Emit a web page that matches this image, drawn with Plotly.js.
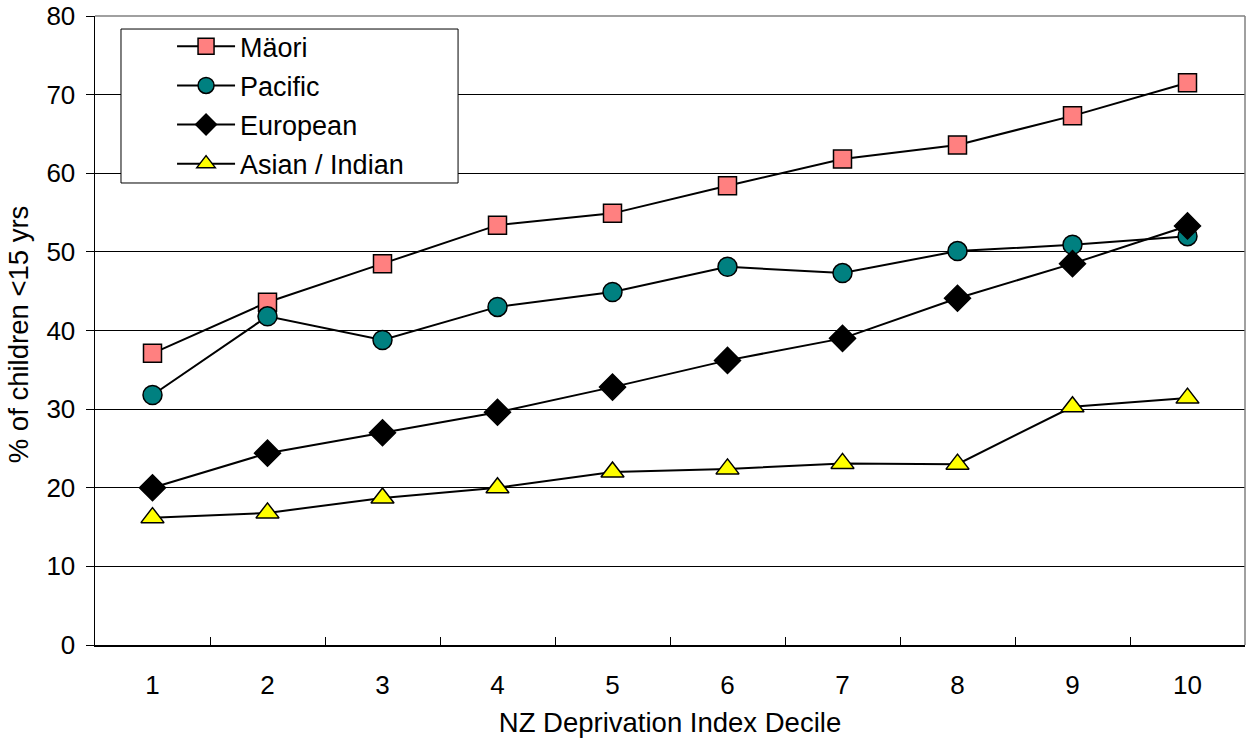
<!DOCTYPE html>
<html>
<head>
<meta charset="utf-8">
<script src="https://cdn.plot.ly/plotly-3.0.1.min.js"></script>
<style>html,body{margin:0;padding:0;background:#fff;}#chart{width:1252px;height:740px;}</style>
</head>
<body>
<div id="chart"></div>
<script>
const deciles = ["1","2","3","4","5","6","7","8","9","10"];
const maori = [37.1, 43.6, 48.5, 53.4, 54.9, 58.4, 61.8, 63.6, 67.3, 71.5];
const pacific = [31.8, 41.8, 38.8, 43.0, 44.9, 48.1, 47.3, 50.1, 50.9, 52.0];
const european = [20.0, 24.4, 27.0, 29.6, 32.8, 36.2, 39.0, 44.1, 48.5, 53.3];
const asian = [16.2, 16.8, 18.7, 20.0, 22.0, 22.4, 23.1, 23.0, 30.3, 31.4];
const yTicks = [0, 10, 20, 30, 40, 50, 60, 70, 80];
const xTitle = "NZ Deprivation Index Decile";
const yTitle = "% of children <15 yrs";

const font = "Liberation Sans, Arial, sans-serif";
function tr(name, y, symbol, color, size, grp) {
  return {
    x: deciles, y: y, name: name, type: "scatter", mode: "lines+markers",
    legendgroup: grp,
    line: {color: "#000", width: 2},
    marker: {symbol: symbol, color: color, size: size, line: {color: "#000", width: 1.5}},
    cliponaxis: false
  };
}
const data = [
  tr("Mäori", maori, "square", "#FF8080", 18, "a"),
  tr("Pacific", pacific, "circle", "#008080", 19, "b"),
  tr("European", european, "diamond", "#000000", 20, "c"),
  tr("Asian / Indian", asian, "triangle-up", "#FFFF00", 20, "d")
];
const layout = {
  width: 1252, height: 740,
  margin: {l: 95, r: 7, t: 16, b: 95},
  paper_bgcolor: "#fff", plot_bgcolor: "#fff",
  font: {family: font, size: 26, color: "#000"},
  showlegend: true,
  legend: {
    x: 0.067, y: 0.990, xanchor: "left", yanchor: "top",
    bgcolor: "rgba(0,0,0,0)", borderwidth: 0,
    font: {family: font, size: 27, color: "#000"},
    tracegroupgap: 1, itemwidth: 58
  },
  xaxis: {
    type: "category", tickson: "boundaries", ticks: "inside", ticklen: 8, tickcolor: "#000",
    showline: true, linecolor: "#000", linewidth: 1.5, showgrid: false, zeroline: false,
    range: [-0.5, 9.5], ticklabelstandoff: 16, automargin: false,
    tickfont: {family: font, size: 26, color: "#000"},
    title: {text: xTitle, font: {family: font, size: 27.5, color: "#000"}, standoff: 14}
  },
  yaxis: {
    range: [0, 80], tickvals: yTicks, ticktext: yTicks.map(String),
    ticks: "outside", ticklen: 8, tickcolor: "#000",
    showline: true, linecolor: "#000", linewidth: 1.5,
    showgrid: true, gridcolor: "#000", gridwidth: 1, zeroline: false,
    ticklabelstandoff: 5, automargin: false,
    tickfont: {family: font, size: 26, color: "#000"}
  },
  annotations: [
    {text: yTitle, xref: "paper", yref: "paper", x: -0.067, y: 0.494, xanchor: "center", yanchor: "middle",
     textangle: -90, showarrow: false, font: {family: font, size: 27.5, color: "#000"}}
  ],
  shapes: [
    {type: "line", xref: "paper", yref: "paper", x0: 0, x1: 1, y0: 1, y1: 1, line: {color: "#808080", width: 1.5}},
    {type: "line", xref: "paper", yref: "paper", x0: 1, x1: 1, y0: 0, y1: 1, line: {color: "#808080", width: 1.5}},
    {type: "rect", xref: "paper", yref: "paper", layer: "above", x0: 0.0226, x1: 0.3157, y0: 0.7345, y1: 0.9793,
     fillcolor: "#fff", line: {color: "#000", width: 1}}
  ]
};
Plotly.newPlot("chart", data, layout, {displayModeBar: false, staticPlot: true});
</script>
</body>
</html>
